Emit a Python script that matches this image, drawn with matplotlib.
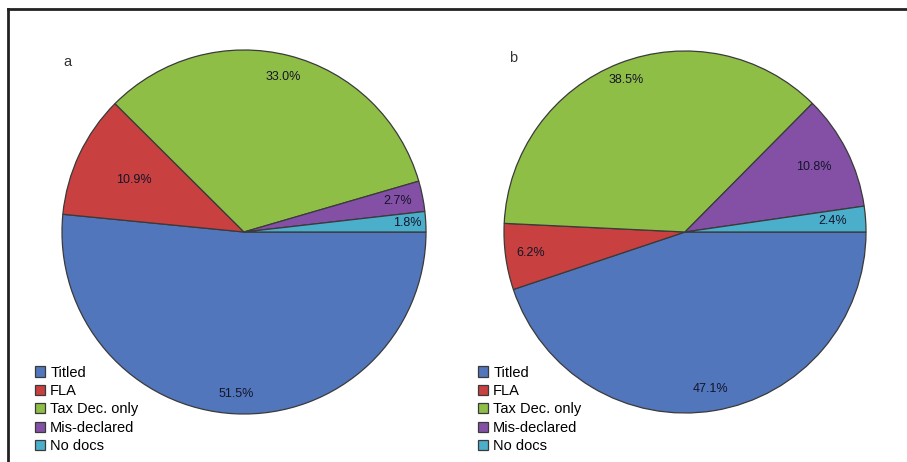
import matplotlib
matplotlib.use("Agg")
import matplotlib.pyplot as plt
import numpy as np
from matplotlib.lines import Line2D

plt.rcParams['font.family'] = ['Liberation Sans', 'DejaVu Sans']

categories = ["Titled", "FLA", "Tax Dec. only", "Mis-declared", "No docs"]
values_a = [51.5, 10.9, 33.0, 2.7, 1.8]
values_b = [47.1, 6.2, 38.5, 10.8, 2.4]
panel_labels = ["a", "b"]

colors = ["#5176BC", "#C8403F", "#8FBE47", "#8350A6", "#4BAFCB"]
label_dist_a = [0.89, 0.67, 0.88, 0.86, 0.90]
label_dist_b = [0.88, 0.86, 0.90, 0.80, 0.82]

W, H = 907, 462
fig = plt.figure(figsize=(W / 100, H / 100), dpi=100)

# frame (left and top edges)
fig.add_artist(Line2D([8 / W, 8 / W], [0, 1 - 9 / H], transform=fig.transFigure,
                      color="#222222", lw=2))
fig.add_artist(Line2D([8 / W, 1], [1 - 9 / H, 1 - 9 / H], transform=fig.transFigure,
                      color="#222222", lw=2))

pies = [
    (values_a, label_dist_a, (244, 232, 182), (67, 62), (32, 6)),
    (values_b, label_dist_b, (685, 232, 181), (513, 58), (475, 6)),
]

for (vals, dists, (cx, cy, r), (lx, ly), (gx, gy)), plab in zip(pies, panel_labels):
    ax = fig.add_axes([(cx - r) / W, (H - cy - r) / H, 2 * r / W, 2 * r / H])
    wedges, texts = ax.pie(vals, colors=colors, startangle=0, counterclock=False,
                           wedgeprops=dict(edgecolor="#3a3a3a", linewidth=0.9),
                           radius=1.0)
    for w, v, d in zip(wedges, vals, dists):
        th = np.deg2rad((w.theta1 + w.theta2) / 2)
        ax.text(d * np.cos(th), d * np.sin(th), f"{v:.1f}%", ha="center", va="center",
                fontsize=9, color="#15152a")
    ax.set_xlim(-1.0, 1.0)
    ax.set_ylim(-1.0, 1.0)
    ax.set_aspect("equal")
    ax.axis("off")
    fig.text(lx / W, 1 - ly / H, plab, ha="center", va="center", fontsize=10.5, color="#333333")
    fig.legend(wedges, categories, loc="lower left", bbox_to_anchor=(gx / W, gy / H),
               frameon=False, fontsize=10.5, handlelength=0.7, handleheight=0.7,
               handletextpad=0.35, labelspacing=0.3, borderpad=0.2, borderaxespad=0)

fig.savefig("out.png", dpi=100)
